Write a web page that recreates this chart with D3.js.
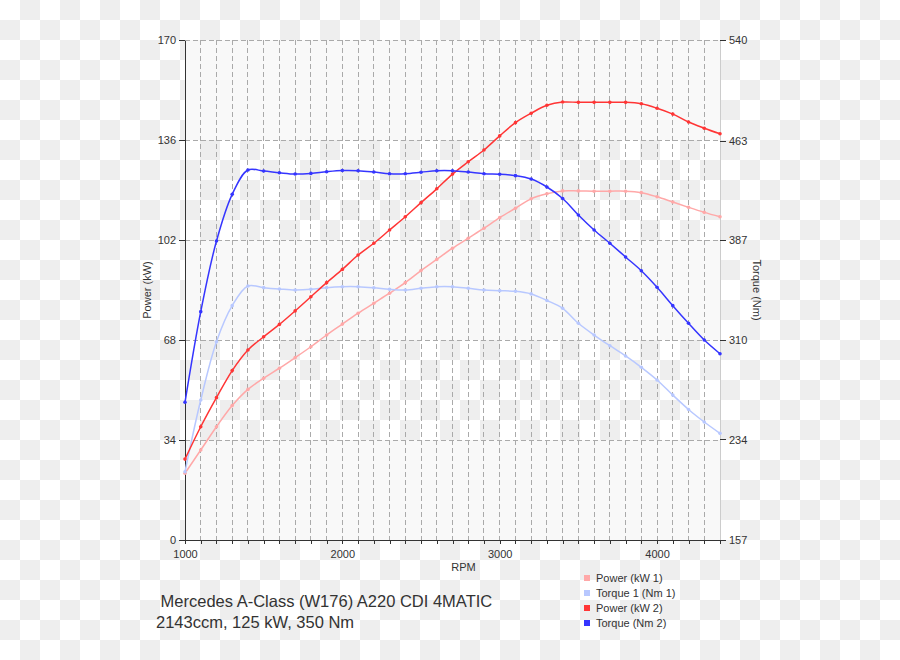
<!DOCTYPE html>
<html>
<head>
<meta charset="utf-8">
<script src="https://cdn.jsdelivr.net/npm/d3@7"></script>
<style>
  body { margin: 0; }
  svg { font-family: "Liberation Sans", Arial, sans-serif; }
  .axis text { font-size: 11px; fill: #333; }
  .axis path, .axis line { fill: none; stroke: #333; shape-rendering: crispEdges; }
  .axis.right path { stroke: #ccc; }
  .grid line { stroke: #aaa; stroke-dasharray: 5,3; shape-rendering: crispEdges; }
  .label { font-size: 11px; fill: #333; }
  .legend text { font-size: 11px; fill: #333; }
  .title { font-size: 16.5px; fill: #333; white-space: pre; }
</style>
</head>
<body>
<svg id="chart" width="900" height="660"></svg>
<script>
// rpm points (every 100 rpm)
const rpm = [1000, 1100, 1200, 1300, 1400, 1500, 1600, 1700, 1800, 1900,
  2000, 2100, 2200, 2300, 2400, 2500, 2600, 2700, 2800, 2900,
  3000, 3100, 3200, 3300, 3400, 3500, 3600, 3700, 3800, 3900,
  4000, 4100, 4200, 4300, 4400];

// kW
const power1 = [22.7, 30.6, 38.5, 45.7, 51.2, 55.0, 58.4, 62.0, 65.7, 69.7,
  73.4, 77.1, 80.5, 83.9, 87.5, 91.6, 95.4, 99.2, 102.6, 106.0,
  109.6, 112.8, 116.0, 117.7, 118.7, 118.7, 118.6, 118.6, 118.6, 118.1,
  116.7, 114.9, 113.1, 111.4, 109.9];
const power2 = [27.5, 38.5, 48.4, 57.6, 64.6, 69.1, 73.3, 77.9, 82.7, 87.5,
  92.0, 96.9, 100.9, 105.4, 109.9, 114.7, 119.4, 124.4, 128.6, 132.6,
  137.4, 141.9, 145.1, 147.8, 148.9, 148.8, 148.8, 148.8, 148.8, 148.3,
  146.8, 144.8, 142.1, 140.0, 138.1];

// Nm
const torque1 = [209.3, 264.2, 308.9, 336.5, 351.6, 350.3, 349.3, 348.5, 349.0, 350.3,
  351.0, 351.0, 350.2, 349.0, 348.5, 349.8, 351.0, 351.0, 349.8, 348.5,
  348.0, 347.5, 345.5, 340.5, 334.5, 323.0, 314.0, 305.8, 298.0, 289.3,
  279.6, 268.0, 257.0, 247.4, 238.7];
const torque2 = [262.5, 331.9, 386.0, 421.8, 440.4, 439.6, 438.3, 437.3, 437.8, 439.1,
  440.0, 439.9, 438.9, 437.6, 437.6, 438.7, 439.9, 439.9, 438.9, 437.6,
  437.2, 436.1, 433.5, 427.4, 418.6, 406.0, 394.5, 384.3, 373.8, 363.3,
  350.6, 336.5, 323.0, 310.2, 299.7];

const powerTicks = [0, 34, 68, 102, 136, 170];
const torqueTicks = [157, 234, 310, 387, 463, 540];

const series = [
  {name: 'Power (kW 1)', values: power1, axis: 'power', color: '#ffa8a8'},
  {name: 'Torque 1 (Nm 1)', values: torque1, axis: 'torque', color: '#b8c8ff'},
  {name: 'Power (kW 2)', values: power2, axis: 'power', color: '#ff3535'},
  {name: 'Torque (Nm 2)', values: torque2, axis: 'torque', color: '#3535ff'}
];

var margin = {top: 40, right: 180, bottom: 120, left: 185},
    width = 900 - margin.left - margin.right,
    height = 660 - margin.top - margin.bottom;

const x = d3.scaleLinear().domain([1000, 4400]).range([0, width]);
const yP = d3.scaleLinear().domain([0, 170]).range([height, 0]);
const yT = d3.scaleLinear().domain([157, 540]).range([height, 0]);

const svg = d3.select('#chart');

// transparent-looking checker background
const pat = svg.append('defs').append('pattern')
    .attr('id', 'checker')
    .attr('width', 40).attr('height', 40)
    .attr('patternUnits', 'userSpaceOnUse');
pat.append('rect').attr('width', 40).attr('height', 40).attr('fill', '#fff');
pat.append('rect').attr('x', 20).attr('width', 20).attr('height', 20).attr('fill', '#eeeeee');
pat.append('rect').attr('y', 20).attr('width', 20).attr('height', 20).attr('fill', '#eeeeee');
svg.append('rect').attr('width', 900).attr('height', 660).attr('fill', 'url(#checker)');

const chart = svg.append('g')
    .attr('transform', `translate(${margin.left},${margin.top})`);

// alternating bands
const bands = d3.pairs(powerTicks).filter((p, i) => i % 2 === 0);
chart.selectAll('.band')
    .data(bands)
  .enter().append('rect')
    .attr('class', 'band')
    .attr('x', 0)
    .attr('width', width)
    .attr('y', d => yP(d[1]))
    .attr('height', d => yP(d[0]) - yP(d[1]))
    .attr('fill', '#f9f9f9')
    .attr('opacity', 0.92);

// grid
const gridX = rpm.filter(r => r > 1000 && r < 4400);
chart.append('g').attr('class', 'grid')
  .selectAll('line')
    .data(gridX)
  .enter().append('line')
    .attr('x1', d => x(d)).attr('x2', d => x(d))
    .attr('y1', 0).attr('y2', height);
chart.append('g').attr('class', 'grid')
  .selectAll('line')
    .data(powerTicks.slice(1))
  .enter().append('line')
    .attr('x1', 0).attr('x2', width)
    .attr('y1', d => yP(d)).attr('y2', d => yP(d));

// axes
chart.append('g')
    .attr('class', 'x axis')
    .attr('transform', `translate(0,${height})`)
    .call(d3.axisBottom(x).tickValues(rpm)
      .tickSize(4).tickSizeOuter(0).tickPadding(6)
      .tickFormat(d => d % 1000 === 0 ? d : ''));

chart.append('g')
    .attr('class', 'y axis')
    .call(d3.axisLeft(yP).tickValues(powerTicks).tickSize(6).tickSizeOuter(0).tickPadding(3));

chart.append('g')
    .attr('class', 'axis right')
    .attr('transform', `translate(${width},0)`)
    .call(d3.axisRight(yT).tickValues(torqueTicks).tickSize(6).tickSizeOuter(0).tickPadding(3));

chart.append('text').attr('class', 'label')
    .attr('transform', `translate(-38,${height / 2}) rotate(-90)`)
    .attr('dy', '0.35em')
    .style('text-anchor', 'middle')
    .text('Power (kW)');

chart.append('text').attr('class', 'label')
    .attr('transform', `translate(${width + 37},${height / 2}) rotate(90)`)
    .attr('dy', '0.35em')
    .style('text-anchor', 'middle')
    .text('Torque (Nm)');

chart.append('text').attr('class', 'label')
    .attr('x', x(2770)).attr('y', height + 31)
    .style('text-anchor', 'middle')
    .text('RPM');

// lines
series.forEach(s => {
  const y = s.axis === 'power' ? yP : yT;
  const line = d3.line()
      .x((d, i) => x(rpm[i]))
      .y(d => y(d))
      .curve(d3.curveCatmullRom);
  chart.append('path')
      .datum(s.values)
      .attr('fill', 'none')
      .attr('stroke', s.color)
      .attr('stroke-width', 1.5)
      .attr('d', line);
  chart.selectAll(null)
      .data(s.values)
    .enter().append('circle')
      .attr('cx', (d, i) => x(rpm[i]))
      .attr('cy', d => y(d))
      .attr('r', 1.8)
      .attr('fill', s.color);
});

// legend
const legend = svg.append('g').attr('class', 'legend')
    .attr('transform', 'translate(584,578)');
const item = legend.selectAll('g')
    .data(series)
  .enter().append('g')
    .attr('transform', (d, i) => `translate(0,${i * 15})`);
item.append('rect')
    .attr('x', 0).attr('y', -3).attr('width', 6).attr('height', 6)
    .attr('fill', d => d.color);
item.append('text')
    .attr('x', 12).attr('dy', '0.35em')
    .text(d => d.name);

// title
svg.append('text').attr('class', 'title')
    .attr('x', 156).attr('y', 607)
    .text(' Mercedes A-Class (W176) A220 CDI 4MATIC');
svg.append('text').attr('class', 'title')
    .attr('x', 156).attr('y', 628)
    .text('2143ccm, 125 kW, 350 Nm');
</script>
</body>
</html>
